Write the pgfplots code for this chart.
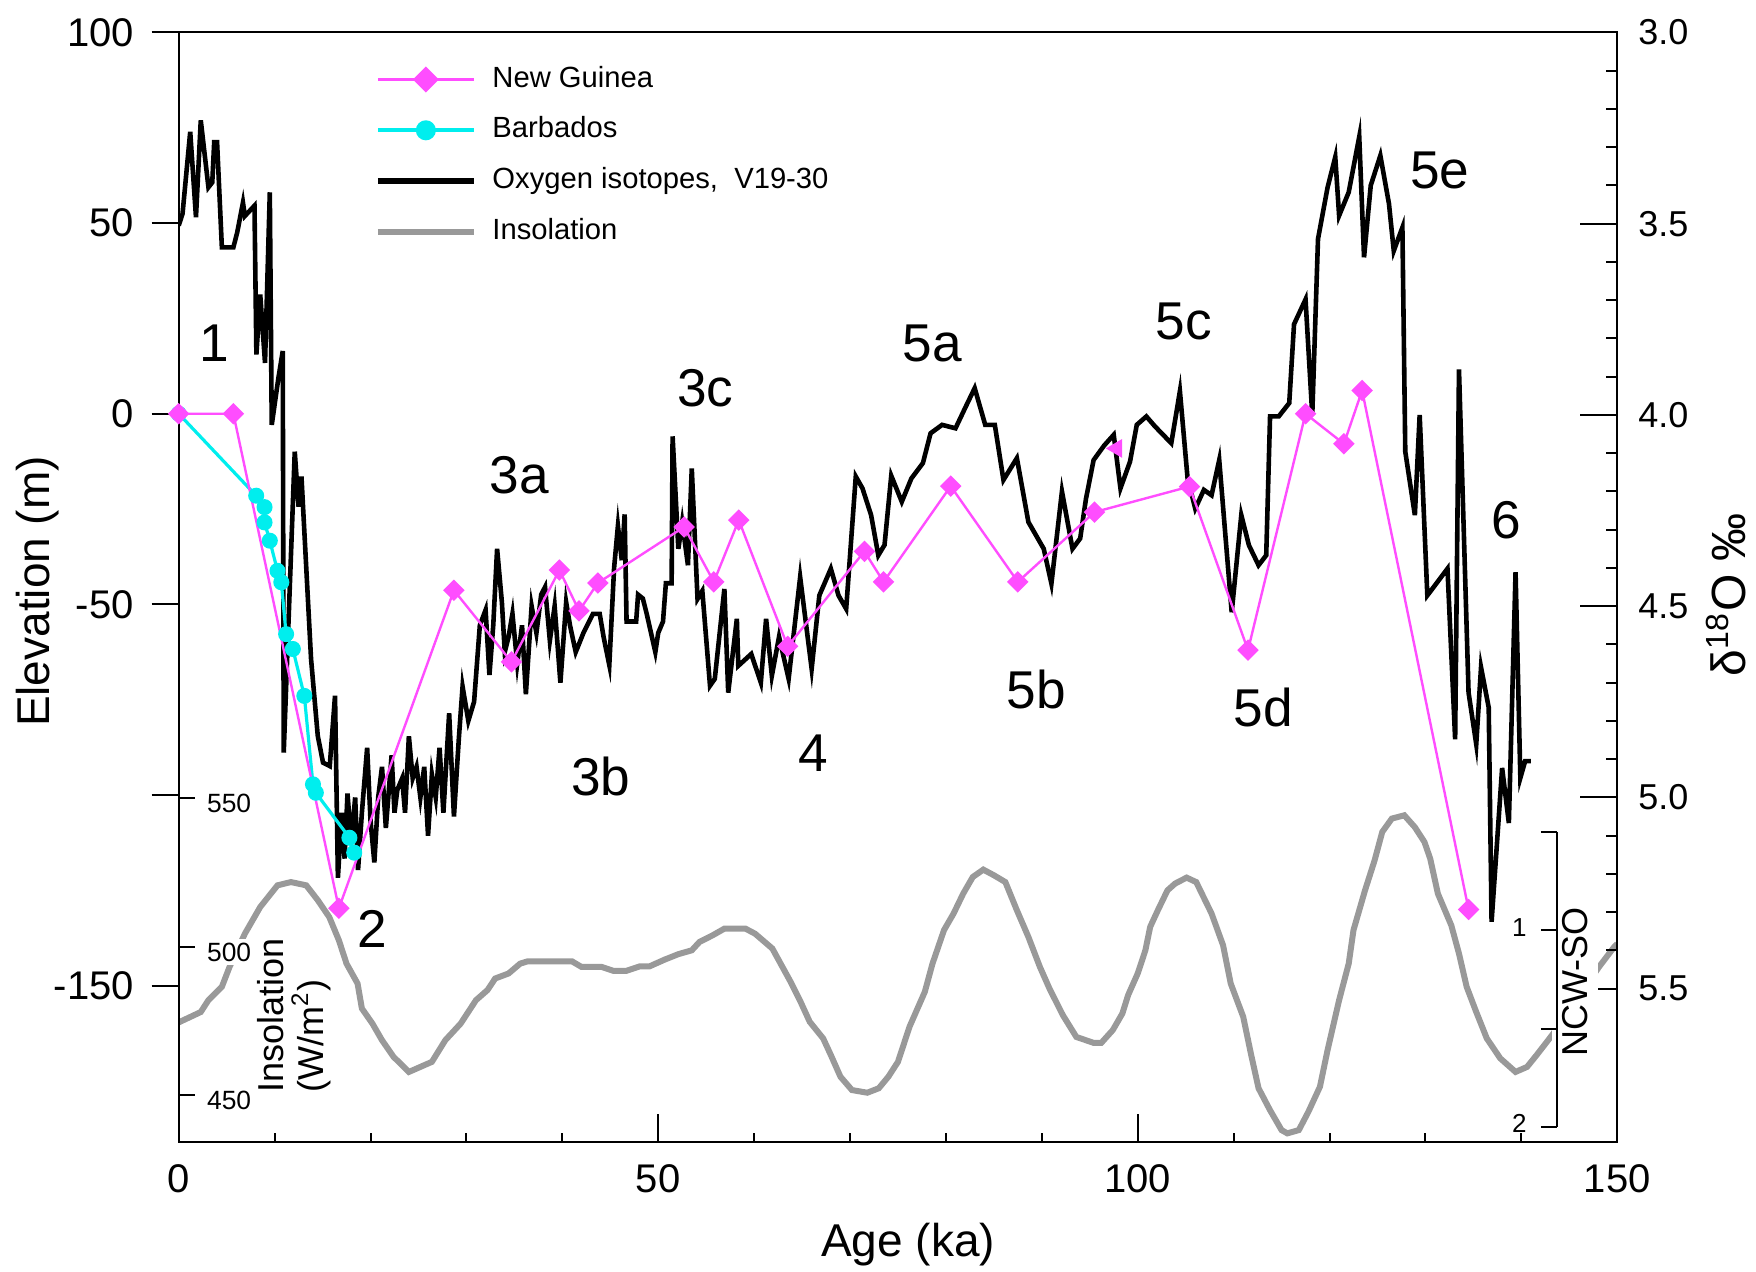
\documentclass[border=0pt]{standalone}
\usepackage{fontspec}
\setmainfont{Liberation Sans}
\usepackage{pgfplots}
\pgfplotsset{compat=1.18}
\pgfplotsset{/pgf/number format/assume math mode=true}

\definecolor{ngmag}{RGB}{255,77,255}
\definecolor{bbcyan}{RGB}{0,238,238}
\definecolor{insgray}{RGB}{153,153,153}

\begin{document}
\begin{tikzpicture}

% insolation, inner scale on the left
\begin{axis}[
  at={(0,0)}, anchor=south west,
  scale only axis, width=359.6pt, height=277.3pt,
  xmin=0, xmax=150, ymin=434.3, ymax=808.2,
  axis x line=none, axis y line*=left, axis on top,
  ytick={450,500,550}, ytick align=inside, major tick length=4.1pt,
  axis line style={line width=0.5pt}, tick style={line width=0.5pt, black},
  yticklabel style={font=\fontsize{6.6}{8}\selectfont, anchor=west, xshift=5.9pt, yshift=-1.3pt, fill=white, inner sep=1pt},
]
\addplot[insgray, line width=1.5pt] coordinates {
(0,474.5)(2.3,478)(3.1,482)(4.5,486.5)(5.3,493.2)(6.9,504.4)(8.5,513.4)(10.3,520.7)
(11.7,521.8)(13.3,520.7)(14.5,515.7)(15.7,510)(16.7,502.2)(17.5,494.3)(18.65,487.6)
(19.1,479.2)(20.2,474.1)(21.2,468.5)(22.4,462.9)(24.0,457.8)(26.4,461.2)(27.8,468.5)
(29.4,474.1)(31.0,482)(32.2,485.4)(33.0,489.3)(34.4,491)(35.6,494.3)(36.4,495.1)
(41.0,495.1)(42.0,493.2)(44.1,493.2)(45.3,491.9)(46.7,491.9)(48.1,493.4)(49.1,493.4)
(50.7,495.7)(52.1,497.5)(53.5,498.8)(54.3,501.6)(55.7,503.9)(56.9,506.1)(59.1,506.1)
(60.1,504.4)(61.9,499.4)(63.8,488.2)(64.85,481.4)(65.8,474.7)(67.2,469.1)(68.0,463.5)
(69.0,456.2)(70.2,451.7)(71.8,450.8)(73.0,452.3)(74.0,456.2)(75.0,461.2)(76.2,473)
(77.8,484.8)(78.6,494.3)(79.8,505.6)(80.8,511.2)(81.8,517.9)(82.8,523.5)(83.9,526)
(85.0,524.1)(86.2,521.8)(87.4,512.3)(88.6,503.3)(89.8,493.2)(90.8,485.9)(92.2,476.9)
(93.6,469.6)(95.4,467.6)(96.2,467.6)(97.4,471.9)(98.4,477.5)(99.0,483.7)(100.0,491)
(100.8,498.8)(101.3,506.7)(102.1,512.3)(103.1,519)(103.9,521.3)(105.1,523.3)(106.1,521.8)
(107.7,511.2)(108.9,500.5)(109.7,487.6)(111.0,476.4)(111.8,464)(112.6,452.3)(113.8,444.9)
(115.0,438.2)(115.6,437.1)(116.8,438.2)(117.8,444.4)(119.0,452.8)(119.8,465.2)(121.0,482)
(122.0,494.3)(122.5,505.6)(123.7,519)(124.7,529.1)(125.5,538.7)(126.5,543.2)(127.8,544.3)
(128.9,540.3)(129.9,535.3)(130.5,529.7)(131.3,517.9)(132.7,507.2)(133.5,497.7)(134.3,486.5)
(135.3,478)(136.4,469.1)(137.8,462.4)(139.4,457.8)(140.6,459.5)(141.6,463.5)(142.8,468.5)
(143.6,471.9)(148.1,493.2)(149.7,500)(150,501)};
\end{axis}

% oxygen isotopes, right scale
\begin{axis}[
  at={(0,0)}, anchor=south west,
  scale only axis, width=359.6pt, height=277.3pt,
  xmin=0, xmax=150, ymin=3.0, ymax=5.90, y dir=reverse,
  axis x line=none, axis y line*=right,
  ytick={3,3.5,4,4.5,5,5.5}, yticklabels={3.0,3.5,4.0,4.5,5.0,5.5},
  minor y tick num=4, major tick length=9.3pt, minor tick length=2.9pt,
  axis line style={line width=0.5pt}, tick style={line width=0.5pt, black},
  yticklabel style={font=\fontsize{9}{11}\selectfont, xshift=1.75pt},
  ylabel={δ\textsuperscript{18}O ‰},
  every axis y label/.style={at={([xshift=32.1pt]axis description cs:1,0.493)}, anchor=base, rotate=90, font=\fontsize{12}{14}\selectfont},
]
\addplot[black, line width=1.15pt] coordinates {
(0.0,3.505)(0.4,3.474)(1.2,3.26)(1.8,3.483)(2.3,3.23)(3.1,3.405)(3.5,3.392)(3.7,3.287)
(4.0,3.287)(4.5,3.562)(5.7,3.562)(6.1,3.523)(6.7,3.445)(6.9,3.48)(7.9,3.453)(8.1,3.842)
(8.5,3.685)(9.0,3.864)(9.5,3.418)(9.7,4.026)(10.4,3.903)(10.85,3.833)(10.95,4.883)
(12.1,4.096)(12.5,4.24)(12.8,4.161)(13.3,4.40)(13.8,4.638)(14.5,4.839)(15.05,4.909)
(15.75,4.918)(16.3,4.734)(16.6,5.21)(17.0,5.04)(17.3,5.16)(17.6,4.99)(18.0,5.12)
(18.4,5.00)(18.7,5.19)(19.1,5.04)(19.65,4.87)(20.0,5.06)(20.4,5.17)(20.8,5.00)
(21.2,4.92)(21.6,5.08)(22.2,4.89)(22.5,5.04)(22.8,4.98)(23.3,4.95)(23.6,5.04)
(24.0,4.84)(24.4,4.95)(24.8,4.92)(25.2,5.00)(25.6,4.92)(26.0,5.10)(26.4,4.94)
(26.8,5.00)(27.2,4.87)(27.6,5.04)(28.2,4.78)(28.7,5.05)(29.2,4.85)(29.6,4.71)
(30.2,4.80)(30.8,4.75)(31.4,4.55)(32.0,4.51)(32.4,4.68)(32.8,4.55)(33.2,4.35)
(33.7,4.49)(34.0,4.62)(34.4,4.58)(34.8,4.52)(35.3,4.65)(35.8,4.55)(36.2,4.73)
(36.8,4.50)(37.3,4.57)(37.8,4.47)(38.2,4.45)(38.7,4.59)(39.2,4.50)(39.8,4.70)
(40.4,4.49)(40.8,4.55)(41.4,4.62)(42.2,4.57)(43.2,4.52)(43.9,4.52)(44.3,4.58)
(44.9,4.654)(45.4,4.40)(45.8,4.29)(46.2,4.38)(46.5,4.26)(46.7,4.54)(47.7,4.54)
(47.9,4.47)(48.4,4.48)(48.8,4.52)(49.7,4.62)(50.0,4.57)(50.5,4.54)(50.8,4.44)
(51.4,4.44)(51.5,4.056)(52.1,4.35)(52.5,4.28)(53.1,4.393)(53.5,4.14)(54.1,4.481)
(54.6,4.46)(55.4,4.708)(55.9,4.69)(56.9,4.455)(57.3,4.726)(58.2,4.533)(58.35,4.656)
(59.7,4.625)(60.7,4.70)(61.25,4.533)(61.85,4.682)(62.6,4.58)(63.6,4.69)(64.8,4.424)
(66.0,4.664)(66.8,4.472)(68.0,4.402)(68.8,4.472)(69.6,4.507)(70.6,4.161)(71.3,4.192)
(72.2,4.262)(72.95,4.367)(73.6,4.34)(74.3,4.159)(75.4,4.227)(76.4,4.166)(77.6,4.126)
(78.4,4.048)(79.6,4.026)(81.0,4.035)(82.0,3.982)(83.0,3.93)(84.1,4.026)(85.1,4.026)
(86.0,4.17)(87.4,4.113)(88.6,4.28)(90.2,4.35)(91.0,4.441)(92.1,4.20)(93.2,4.35)
(94.0,4.323)(94.6,4.22)(95.4,4.118)(96.5,4.08)(97.5,4.052)(98.2,4.192)(99.2,4.122)
(99.9,4.026)(100.9,4.004)(101.8,4.03)(103.5,4.074)(104.4,3.938)(105.2,4.166)(106.0,4.245)
(106.9,4.196)(107.7,4.21)(108.5,4.118)(109.8,4.516)(110.8,4.262)(111.6,4.341)(112.6,4.393)
(113.4,4.367)(113.8,4.004)(114.7,4.004)(115.8,3.969)(116.3,3.763)(117.5,3.698)(118.2,4.00)
(118.8,3.54)(119.8,3.405)(120.6,3.326)(121.0,3.479)(122.0,3.418)(123.1,3.273)(123.6,3.588)
(124.3,3.40)(125.3,3.322)(126.2,3.448)(126.7,3.571)(127.6,3.51)(127.9,4.096)(128.9,4.262)
(129.4,4.00)(130.2,4.472)(132.3,4.402)(133.1,4.848)(133.5,3.881)(134.5,4.726)(135.3,4.861)
(135.8,4.66)(136.6,4.765)(136.9,5.325)(138.0,4.923)(138.7,5.067)(139.4,4.411)(139.9,4.949)
(140.4,4.905)(141.0,4.905)};
\end{axis}

% sea level, main axis
\begin{axis}[
  name=main, at={(0,0)}, anchor=south west,
  scale only axis, width=359.6pt, height=277.3pt,
  xmin=0, xmax=150, ymin=-190.9, ymax=100,
  xtick={0,50,100,150}, minor x tick num=4,
  ytick={-150,-100,-50,0,50,100}, yticklabels={-150,,-50,0,50,100},
  tick pos=left, xtick align=inside, ytick align=outside,
  major tick length=6.8pt, minor tick length=2.2pt,
  axis line style={line width=0.5pt}, tick style={line width=0.5pt, black},
  xticklabel style={font=\fontsize{10}{12}\selectfont, yshift=-2.1pt},
  yticklabel style={font=\fontsize{10}{12}\selectfont, xshift=-0.9pt},
  xlabel={Age (ka)}, ylabel={Elevation (m)},
  every axis x label/.style={at={([yshift=-28.6pt]axis description cs:0.507,0)}, anchor=base, font=\fontsize{11.5}{14}\selectfont},
  every axis y label/.style={at={([xshift=-32.2pt]axis description cs:0,0.496)}, anchor=base, rotate=90, font=\fontsize{11.5}{14}\selectfont},
  clip=false,
  legend style={draw=none, fill=none, at={(0.1358,0.9705)}, anchor=north west,
    inner sep=0pt, row sep=5.9pt, column sep=3.9pt,
    font=\fontsize{7.3}{8.8}\selectfont,
    nodes={inner sep=0pt, text height=5.3pt, text depth=1.5pt}},
  legend cell align=left,
  legend image code/.code={\draw[mark repeat=2,mark phase=2,#1] plot coordinates {(0pt,0pt) (12pt,0pt) (24pt,0pt)};},
]
\addlegendimage{ngmag, line width=0.6pt, mark=square*, mark size=2pt, mark options={rotate=45}}
\addlegendentry{New Guinea}
\addlegendimage{bbcyan, line width=1pt, mark=*, mark size=2pt}
\addlegendentry{Barbados}
\addlegendimage{black, line width=1.5pt}
\addlegendentry{Oxygen isotopes,\ \ V19-30}
\addlegendimage{insgray, line width=1.5pt}
\addlegendentry{Insolation}

% Barbados
\addplot[forget plot, bbcyan, line width=0.8pt, mark=*, mark size=1.6pt] coordinates {
(0,0)(8.08,-21.5)(8.95,-24.5)(8.95,-28.5)(9.5,-33.3)(10.3,-41.2)(10.7,-44.2)
(11.2,-57.8)(11.9,-61.7)(13.1,-74)(14.0,-97.2)(14.3,-99.4)(17.8,-111.2)(18.3,-115.1)};
% New Guinea
\addplot[forget plot, ngmag, line width=0.6pt, mark=square*, mark size=1.6pt, mark options={rotate=45}] coordinates {
(0,0)(5.7,0)(16.7,-129.7)(28.7,-46.3)(34.7,-65.1)(39.7,-41.0)(41.75,-51.7)(43.7,-44.4)
(52.7,-29.7)(55.8,-44.1)(58.4,-27.9)(63.5,-61)(71.5,-36.1)(73.5,-44.1)(80.5,-19.0)
(87.5,-44.1)(95.5,-25.8)(105.4,-19.1)(111.5,-62)(117.5,0)(121.5,-7.9)(123.4,6.1)(134.5,-130)};
\addplot[forget plot, only marks, ngmag, mark=triangle*, mark size=2.3pt, mark options={rotate=90}] coordinates {(97.8,-9.1)};

\coordinate (ncwtop) at (axis cs:143.7,-109.7);

\begin{scope}[font=\fontsize{13.3}{15}\selectfont]
\node at (axis cs:3.7,18.4) {1};
\node at (axis cs:20.2,-135.1) {2};
\node at (axis cs:35.5,-16.1) {3a};
\node at (axis cs:44.0,-95.1) {3b};
\node at (axis cs:54.9,6.6) {3c};
\node at (axis cs:66.2,-89) {4};
\node at (axis cs:78.6,18.4) {5a};
\node at (axis cs:89.4,-72.2) {5b};
\node at (axis cs:104.8,24.1) {5c};
\node at (axis cs:113.1,-77.1) {5d};
\node at (axis cs:131.5,63.9) {5e};
\node at (axis cs:138.4,-27.8) {6};
\end{scope}

\node[rotate=90, align=left, anchor=west, inner sep=0pt, font=\fontsize{9}{10}\selectfont] at (axis cs:12.04,-178.2) {Insolation\\(W/m\textsuperscript{2})};
\node[rotate=90, fill=white, inner sep=2.5pt, font=\fontsize{9}{11}\selectfont] at (axis cs:145.6,-149.0) {NCW-SO};
\end{axis}

% NCW-SO scale
\begin{axis}[
  at={(ncwtop)}, anchor=north west,
  scale only axis, width=5pt, height=73.75pt,
  xmin=0, xmax=1, ymin=0.5, ymax=2, y dir=reverse,
  axis x line=none, axis y line*=left,
  ytick={0.5,1,1.5,2}, yticklabels={,1,,2},
  ytick align=outside, major tick length=4pt,
  axis line style={line width=0.5pt}, tick style={line width=0.5pt, black},
  yticklabel style={font=\fontsize{6.5}{8}\selectfont, yshift=0.8pt},
]
\addplot[draw=none] coordinates {(0.5,1)};
\end{axis}

\pgfresetboundingbox
\path[use as bounding box] (-44.675pt,-32.4pt) rectangle (394.3pt,285.4pt);
\end{tikzpicture}
\end{document}
